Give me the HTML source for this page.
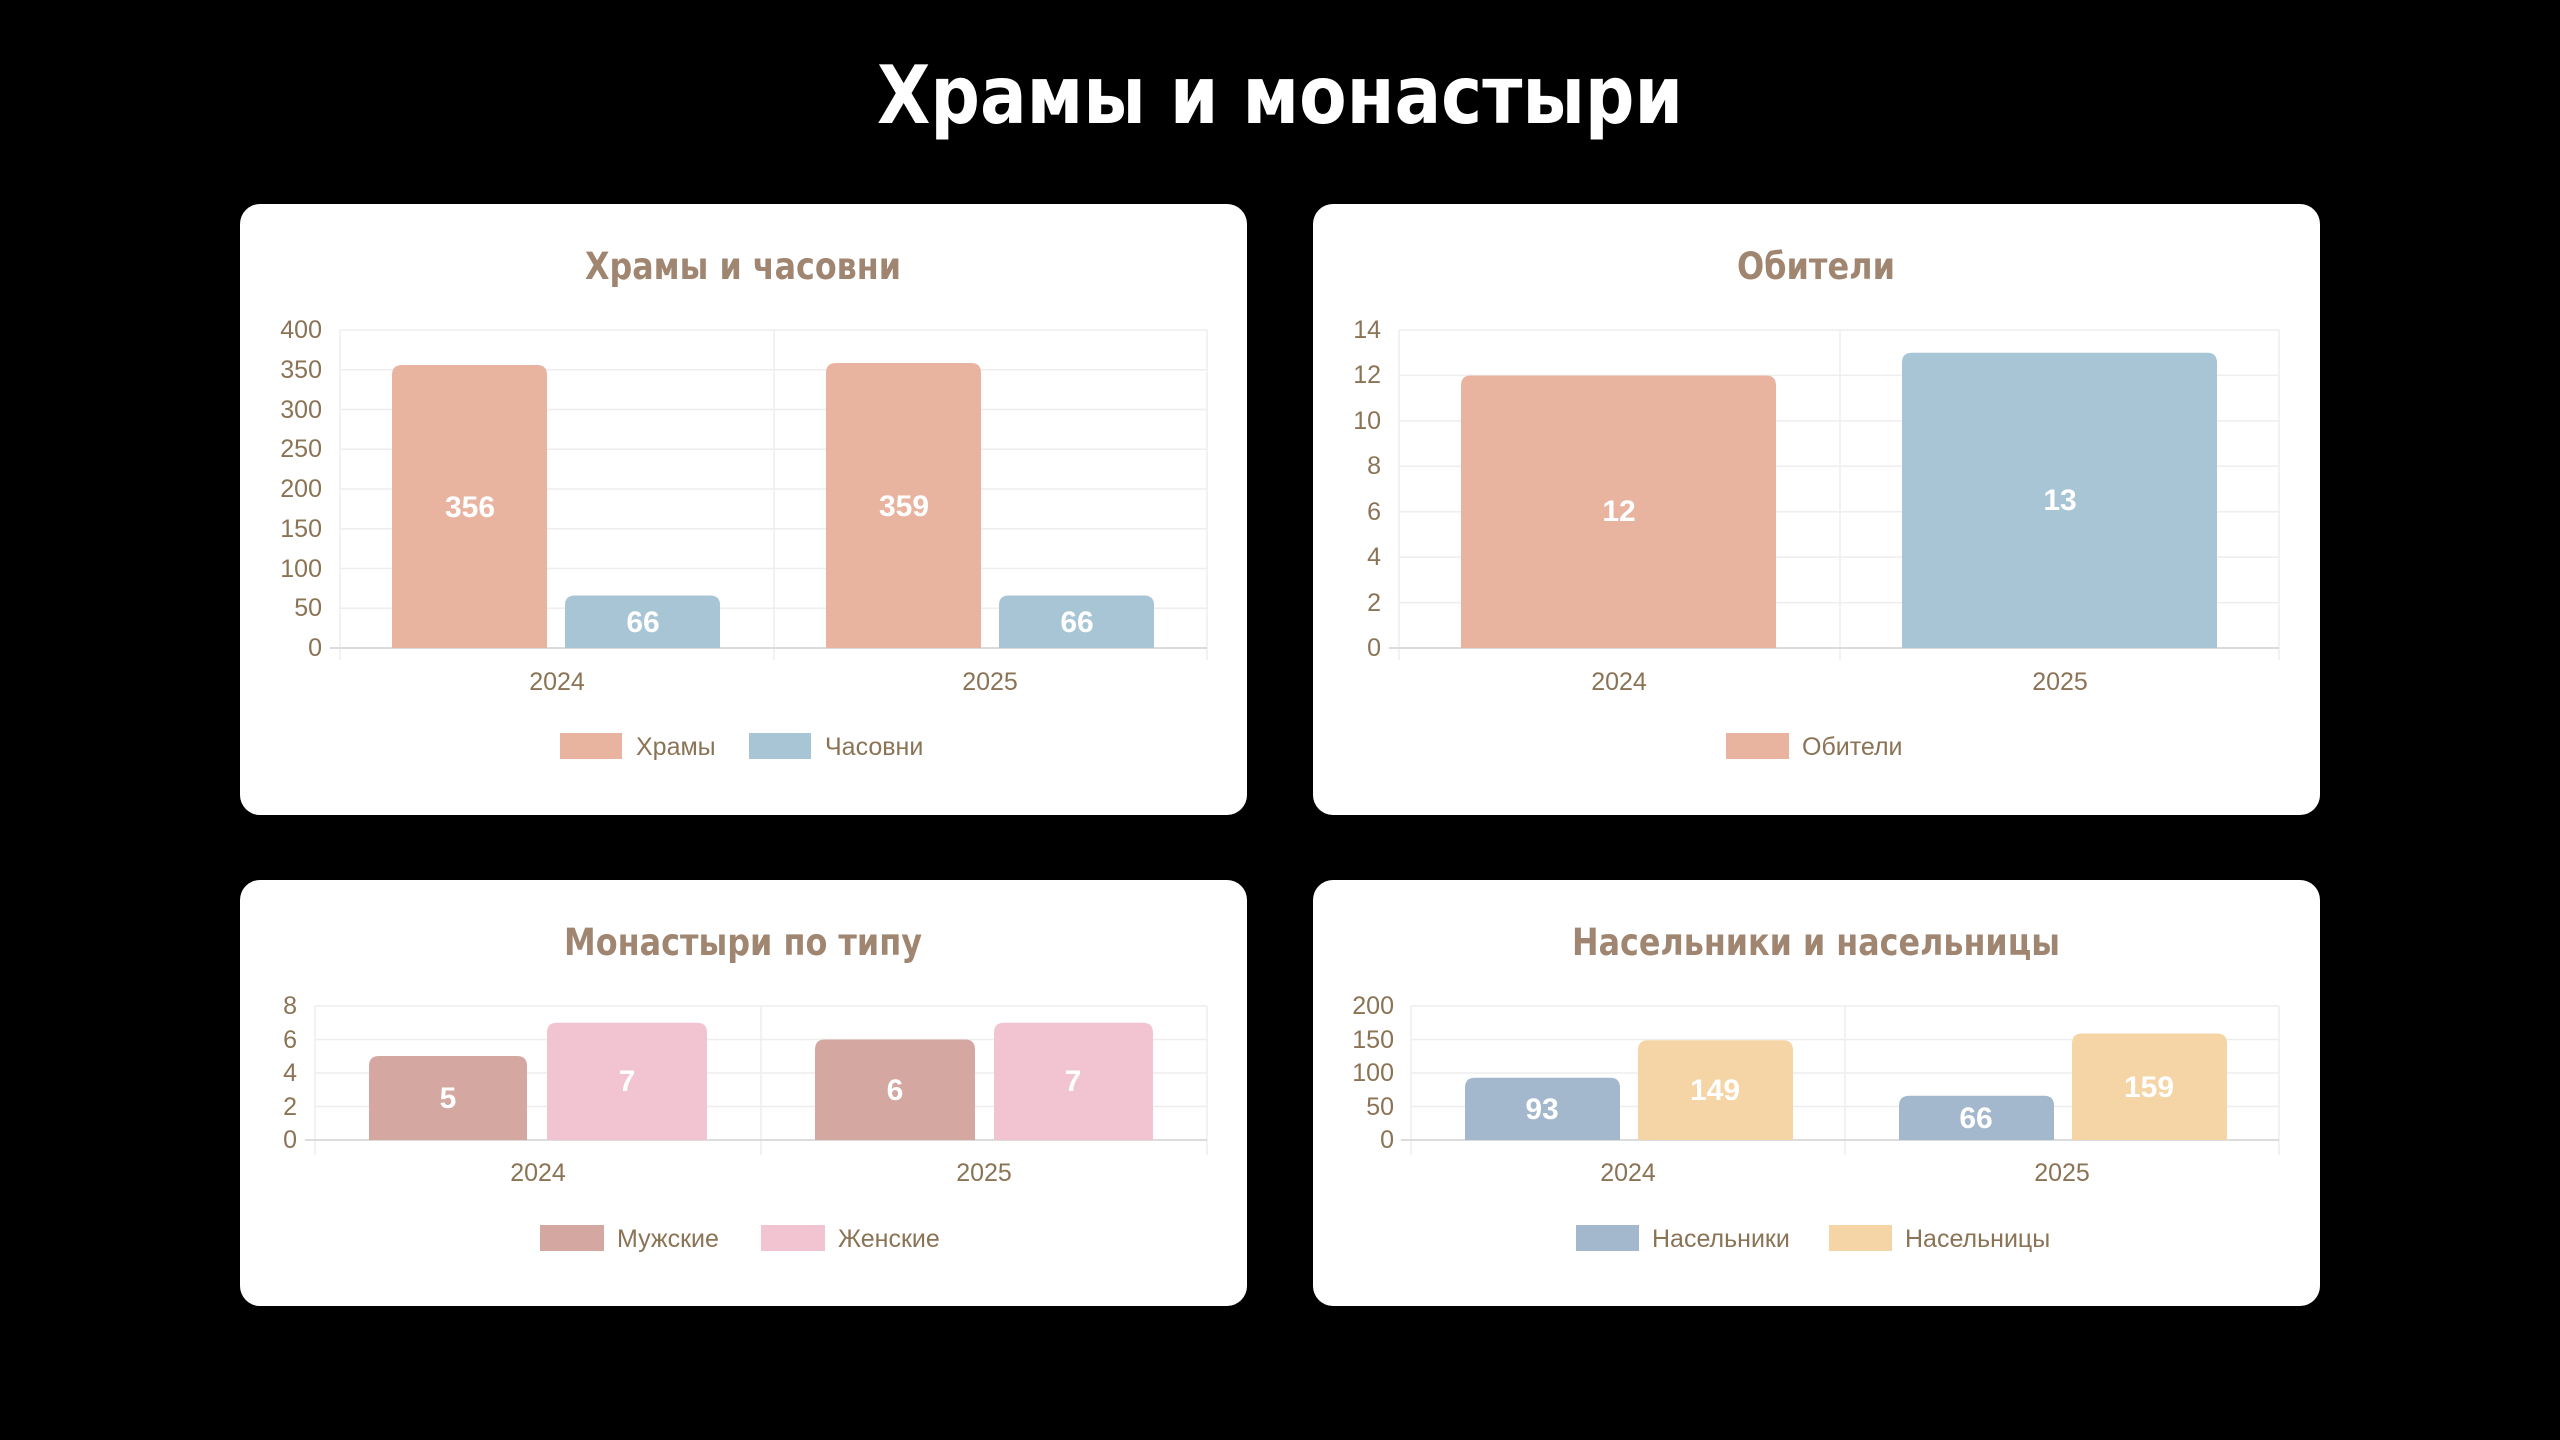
<!DOCTYPE html>
<html><head><meta charset="utf-8"><style>
html,body{margin:0;padding:0;background:#000;}
svg{display:block}
.t{font-family:"DejaVu Sans Condensed","DejaVu Sans","Liberation Sans",sans-serif;font-weight:bold;font-stretch:condensed}
.ax{font-family:"Liberation Sans Narrow","Liberation Sans",sans-serif;fill:#8b7355;font-size:25px}
.v{font-family:"Liberation Sans Narrow","Liberation Sans",sans-serif;fill:#fff;font-weight:bold;font-size:30px;text-anchor:middle}
.g{stroke:#eeeeee;stroke-width:1.5}
</style></head><body>
<svg width="2560" height="1440" viewBox="0 0 2560 1440" xmlns="http://www.w3.org/2000/svg">
<rect width="2560" height="1440" fill="#000"/>
<text class="t" x="1280" y="123" fill="#fff" font-size="80" text-anchor="middle" textLength="806" lengthAdjust="spacingAndGlyphs">Храмы и монастыри</text>

<!-- cards -->
<rect x="240" y="204" width="1007" height="611" rx="20" fill="#fff"/>
<rect x="1313" y="204" width="1007" height="611" rx="20" fill="#fff"/>
<rect x="240" y="880" width="1007" height="426" rx="20" fill="#fff"/>
<rect x="1313" y="880" width="1007" height="426" rx="20" fill="#fff"/>

<!-- Chart 1 -->
<text class="t" x="743" y="279" fill="#a08670" font-size="37" text-anchor="middle" textLength="316" lengthAdjust="spacingAndGlyphs">Храмы и часовни</text>
<g class="g">
<line x1="340" y1="330" x2="1207" y2="330"/><line x1="340" y1="369.75" x2="1207" y2="369.75"/><line x1="340" y1="409.5" x2="1207" y2="409.5"/><line x1="340" y1="449.25" x2="1207" y2="449.25"/><line x1="340" y1="489" x2="1207" y2="489"/><line x1="340" y1="528.75" x2="1207" y2="528.75"/><line x1="340" y1="568.5" x2="1207" y2="568.5"/><line x1="340" y1="608.25" x2="1207" y2="608.25"/>
<line x1="340" y1="330" x2="340" y2="660"/><line x1="774" y1="330" x2="774" y2="660"/><line x1="1207" y1="330" x2="1207" y2="660"/>
</g>
<line x1="330" y1="648" x2="1207" y2="648" stroke="#dcdcdc" stroke-width="2"/>
<g class="ax" text-anchor="end">
<text x="322" y="338">400</text><text x="322" y="378">350</text><text x="322" y="418">300</text><text x="322" y="457">250</text><text x="322" y="497">200</text><text x="322" y="537">150</text><text x="322" y="577">100</text><text x="322" y="616">50</text><text x="322" y="656">0</text>
</g>
<path d="M392 648V375Q392 365 402 365H537Q547 365 547 375V648Z" fill="#e8b4a0"/>
<path d="M565 648V605Q565 595.5 575 595.5H710Q720 595.5 720 605V648Z" fill="#a8c5d6"/>
<path d="M826 648V373Q826 363 836 363H971Q981 363 981 373V648Z" fill="#e8b4a0"/>
<path d="M999 648V605Q999 595.5 1009 595.5H1144Q1154 595.5 1154 605V648Z" fill="#a8c5d6"/>
<text class="v" x="470" y="517">356</text><text class="v" x="643" y="632">66</text>
<text class="v" x="904" y="516">359</text><text class="v" x="1077" y="632">66</text>
<g class="ax" text-anchor="middle"><text x="557" y="690">2024</text><text x="990" y="690">2025</text></g>
<rect x="560" y="733" width="62" height="26" fill="#e8b4a0"/><text class="ax" x="636" y="755">Храмы</text>
<rect x="749" y="733" width="62" height="26" fill="#a8c5d6"/><text class="ax" x="825" y="755">Часовни</text>

<!-- Chart 2 -->
<text class="t" x="1816" y="279" fill="#a08670" font-size="37" text-anchor="middle" textLength="158" lengthAdjust="spacingAndGlyphs">Обители</text>
<g class="g">
<line x1="1399" y1="330" x2="2279" y2="330"/><line x1="1399" y1="375.4" x2="2279" y2="375.4"/><line x1="1399" y1="420.9" x2="2279" y2="420.9"/><line x1="1399" y1="466.3" x2="2279" y2="466.3"/><line x1="1399" y1="511.7" x2="2279" y2="511.7"/><line x1="1399" y1="557.1" x2="2279" y2="557.1"/><line x1="1399" y1="602.6" x2="2279" y2="602.6"/>
<line x1="1399" y1="330" x2="1399" y2="660"/><line x1="1840" y1="330" x2="1840" y2="660"/><line x1="2279" y1="330" x2="2279" y2="660"/>
</g>
<line x1="1389" y1="648" x2="2279" y2="648" stroke="#dcdcdc" stroke-width="2"/>
<g class="ax" text-anchor="end">
<text x="1381" y="338">14</text><text x="1381" y="383">12</text><text x="1381" y="429">10</text><text x="1381" y="474">8</text><text x="1381" y="520">6</text><text x="1381" y="565">4</text><text x="1381" y="611">2</text><text x="1381" y="656">0</text>
</g>
<path d="M1461 648V385.5Q1461 375.5 1471 375.5H1766Q1776 375.5 1776 385.5V648Z" fill="#e8b4a0"/>
<path d="M1902 648V362.7Q1902 352.7 1912 352.7H2207Q2217 352.7 2217 362.7V648Z" fill="#a8c5d6"/>
<text class="v" x="1619" y="521">12</text><text class="v" x="2060" y="510">13</text>
<g class="ax" text-anchor="middle"><text x="1619" y="690">2024</text><text x="2060" y="690">2025</text></g>
<rect x="1726" y="733" width="63" height="26" fill="#e8b4a0"/><text class="ax" x="1802" y="755">Обители</text>

<!-- Chart 3 -->
<text class="t" x="743" y="955" fill="#a08670" font-size="37" text-anchor="middle" textLength="358" lengthAdjust="spacingAndGlyphs">Монастыри по типу</text>
<g class="g">
<line x1="315" y1="1006" x2="1207" y2="1006"/><line x1="315" y1="1039.5" x2="1207" y2="1039.5"/><line x1="315" y1="1073" x2="1207" y2="1073"/><line x1="315" y1="1106.5" x2="1207" y2="1106.5"/>
<line x1="315" y1="1006" x2="315" y2="1155"/><line x1="761" y1="1006" x2="761" y2="1155"/><line x1="1207" y1="1006" x2="1207" y2="1155"/>
</g>
<line x1="305" y1="1140" x2="1207" y2="1140" stroke="#dcdcdc" stroke-width="2"/>
<g class="ax" text-anchor="end">
<text x="297" y="1014">8</text><text x="297" y="1048">6</text><text x="297" y="1081">4</text><text x="297" y="1115">2</text><text x="297" y="1148">0</text>
</g>
<path d="M369 1140V1066Q369 1056 379 1056H517Q527 1056 527 1066V1140Z" fill="#d4a8a0"/>
<path d="M547 1140V1032.75Q547 1022.75 557 1022.75H697Q707 1022.75 707 1032.75V1140Z" fill="#f2c4d2"/>
<path d="M815 1140V1049.5Q815 1039.5 825 1039.5H965Q975 1039.5 975 1049.5V1140Z" fill="#d4a8a0"/>
<path d="M994 1140V1032.75Q994 1022.75 1004 1022.75H1143Q1153 1022.75 1153 1032.75V1140Z" fill="#f2c4d2"/>
<text class="v" x="448" y="1108">5</text><text class="v" x="627" y="1091">7</text>
<text class="v" x="895" y="1100">6</text><text class="v" x="1073" y="1091">7</text>
<g class="ax" text-anchor="middle"><text x="538" y="1181">2024</text><text x="984" y="1181">2025</text></g>
<rect x="540" y="1225" width="64" height="26" fill="#d4a8a0"/><text class="ax" x="617" y="1247">Мужские</text>
<rect x="761" y="1225" width="64" height="26" fill="#f2c4d2"/><text class="ax" x="838" y="1247">Женские</text>

<!-- Chart 4 -->
<text class="t" x="1816" y="955" fill="#a08670" font-size="37" text-anchor="middle" textLength="488" lengthAdjust="spacingAndGlyphs">Насельники и насельницы</text>
<g class="g">
<line x1="1411" y1="1006" x2="2279" y2="1006"/><line x1="1411" y1="1039.5" x2="2279" y2="1039.5"/><line x1="1411" y1="1073" x2="2279" y2="1073"/><line x1="1411" y1="1106.5" x2="2279" y2="1106.5"/>
<line x1="1411" y1="1006" x2="1411" y2="1155"/><line x1="1845" y1="1006" x2="1845" y2="1155"/><line x1="2279" y1="1006" x2="2279" y2="1155"/>
</g>
<line x1="1401" y1="1140" x2="2279" y2="1140" stroke="#dcdcdc" stroke-width="2"/>
<g class="ax" text-anchor="end">
<text x="1394" y="1014">200</text><text x="1394" y="1048">150</text><text x="1394" y="1081">100</text><text x="1394" y="1115">50</text><text x="1394" y="1148">0</text>
</g>
<path d="M1465 1140V1087.7Q1465 1077.7 1475 1077.7H1610Q1620 1077.7 1620 1087.7V1140Z" fill="#a3b8cc"/>
<path d="M1638 1140V1050.2Q1638 1040.2 1648 1040.2H1783Q1793 1040.2 1793 1050.2V1140Z" fill="#f5d5a5"/>
<path d="M1899 1140V1105.8Q1899 1095.8 1909 1095.8H2044Q2054 1095.8 2054 1105.8V1140Z" fill="#a3b8cc"/>
<path d="M2072 1140V1043.5Q2072 1033.5 2082 1033.5H2217Q2227 1033.5 2227 1043.5V1140Z" fill="#f5d5a5"/>
<text class="v" x="1542" y="1119">93</text><text class="v" x="1715" y="1100">149</text>
<text class="v" x="1976" y="1128">66</text><text class="v" x="2149" y="1097">159</text>
<g class="ax" text-anchor="middle"><text x="1628" y="1181">2024</text><text x="2062" y="1181">2025</text></g>
<rect x="1576" y="1225" width="63" height="26" fill="#a3b8cc"/><text class="ax" x="1652" y="1247">Насельники</text>
<rect x="1829" y="1225" width="63" height="26" fill="#f5d5a5"/><text class="ax" x="1905" y="1247">Насельницы</text>
</svg>
</body></html>
